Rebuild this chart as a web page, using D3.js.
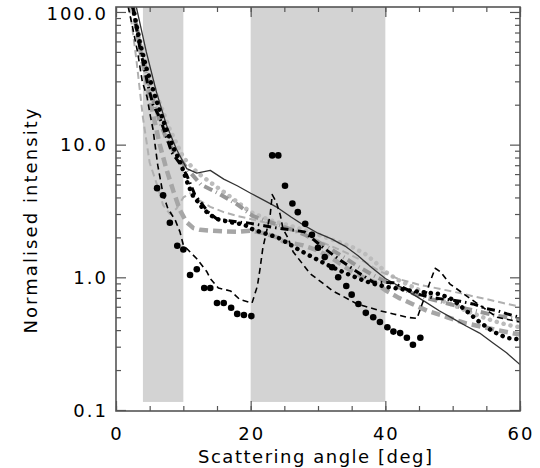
<!DOCTYPE html>
<html>
<head>
<meta charset="utf-8">
<script src="https://cdn.jsdelivr.net/npm/d3@7"></script>
<style>
  body { margin: 0; background: #fff; }
  svg { display: block; }
  text { font-family: "DejaVu Sans", sans-serif; fill: #000; }
</style>
</head>
<body>
<svg id="chart" width="540" height="468"></svg>
<script>
// scattering angle [deg] vs normalised intensity, several model / data curves

var xTicks = [0, 20, 40, 60];
var yTicks = [0.1, 1, 10, 100];
var yTickLabels = ["0.1", "1.0", "10.0", "100.0"];

// shaded angle ranges
var bands = [[4, 10], [20, 40]];
var bandBottom = 0.115;

var solidLine = [[3,110],[4.5,50],[6,25],[7.5,14],[9,9.2],[10.5,6.6],[12,6.1],[14,6.4],[16,5.5],[18,4.9],[20,4.3],[22,3.8],[24,3.35],[26,2.85],[28,2.45],[30,2.15],[32,1.95],[34,1.72],[36,1.45],[38,1.18],[40,0.98],[42,0.86],[44,0.75],[46,0.65],[48,0.56],[50,0.49],[52,0.43],[54,0.38],[56,0.32],[58,0.27],[60,0.22]];

var blackDash = [[1.8,110],[2.5,75],[3.2,50],[3.9,30],[4.6,23],[5.05,17],[5.5,13],[5.8,10],[6.2,7],[7,4.2],[7.7,3.3],[8.8,2.7],[9.5,2.2],[10,1.75],[12,1.38],[13.5,1.1],[14,0.98],[15.2,0.83],[17,0.79],[18.4,0.68],[20.2,0.64],[21,0.86],[21.4,1.17],[21.8,1.65],[22.4,2.27],[22.9,2.95],[23.2,4.2],[23.8,3.7],[24.4,2.95],[24.8,2.32],[25.6,1.95],[26.3,1.56],[28.8,1.07],[32.2,0.79],[35.8,0.63],[39.2,0.56],[41.2,0.53],[43.2,0.5],[44.7,0.49],[46.7,0.94],[47.4,1.17],[48.2,1.1],[49.6,0.89],[53,0.67],[56.6,0.5],[60,0.46]];

var blackDashDot = [[2.5,110],[3.5,55],[4.75,28],[5.5,20],[6.5,16],[7.6,11],[8.3,8.7],[9.5,7.2],[10.5,5.9],[11.7,4.2],[13.7,3.1],[15,2.75],[18,2.62],[20,2.55],[22,2.45],[24,2.35],[26,2.28],[28,2.2],[30.6,1.7],[33.1,1.37],[35.8,1.1],[38.2,0.92],[41.2,0.91],[43.7,0.79],[45.2,0.74],[47.1,0.7],[49.2,0.68],[51.1,0.66],[53,0.63],[55.1,0.58],[56.6,0.56],[58.1,0.53],[60,0.5]];

var blackDotted = [[2.5,110],[3.5,60],[4.5,38],[5.5,26],[6.5,18],[7.5,13],[8.5,9.5],[9.5,7.5],[10.7,5],[11.4,4.15],[12,3.8],[12.5,3.5],[13.2,3.2],[14,2.95],[15,2.75],[17,2.6],[19,2.5],[20.3,2.3],[22,2.15],[24,2.0],[25.6,1.8],[27,1.63],[28.5,1.48],[30,1.35],[32,1.2],[34,1.08],[36,0.98],[38,0.9],[40,0.85],[42,0.82],[44,0.79],[46,0.77],[48,0.75],[50,0.68],[52,0.56],[54,0.46],[56,0.39],[58,0.35],[60,0.34]];

var blackPoints = [[6.1,4.7],[7,4.15],[8,2.58],[9.1,1.73],[10,1.62],[11,1.04],[12,1.15],[13.1,0.83],[14,0.83],[15,0.64],[16,0.64],[17.1,0.59],[18,0.53],[19,0.52],[20.1,0.51],[23.2,8.3],[24.1,8.3],[25.1,4.9],[26.2,3.6],[27,3.1],[28.1,2.53],[29.1,2.09],[30,1.67],[31,1.42],[32.1,1.19],[33,1.0],[34.2,0.86],[35,0.74],[36,0.63],[37.1,0.54],[38.2,0.5],[39.2,0.46],[40.3,0.42],[41.2,0.39],[42.2,0.38],[43.2,0.35],[44.1,0.31],[45.2,0.35]];

var grayDashDot = [[2.5,110],[3.5,60],[4.5,35],[5.5,22],[6.5,15],[7.5,11],[8.5,9],[10,7.2],[11,6.2],[12.6,5.0],[15.2,4.3],[18,3.55],[20.3,2.9],[22,2.7],[24,2.5],[26,2.3],[28,2.1],[30,1.85],[32,1.62],[34,1.4],[36,1.2],[38,1.05],[40,0.93],[42,0.84],[44,0.76],[46,0.7],[48,0.66],[50,0.62],[52,0.58],[54,0.55],[56,0.52],[58,0.5],[60,0.48]];

var grayDash = [[2.5,110],[3.5,55],[4.5,30],[5.5,17],[6.5,10],[7.5,6.5],[8.5,4.5],[9.5,3.2],[10.5,2.6],[11.5,2.35],[12.5,2.28],[14,2.25],[16,2.22],[18,2.2],[20,2.25],[22,2.15],[23.9,2.0],[24.8,1.87],[27.8,1.74],[29.9,1.6],[31.8,1.42],[34.3,1.17],[36.7,1.0],[38.2,0.93],[40,0.8],[42,0.7],[44,0.63],[46.2,0.56],[49.2,0.5],[52,0.45],[56.6,0.4],[60,0.37]];

var grayDotted = [[2.5,110],[4,50],[6,24],[8,13],[10,8],[12,6.2],[14,5.2],[16,4.4],[18,3.7],[20,3.1],[22.7,2.71],[25,2.52],[28,2.27],[30,2.1],[33,1.85],[35,1.7],[37,1.5],[38.5,1.3],[40,1.1],[42,0.95],[44,0.85],[46,0.76],[48,0.68],[50,0.62],[52,0.56],[54,0.51],[56,0.47],[58,0.44],[60,0.42]];

var lightDash = [[2,110],[3,45],[4,16],[5,7.3],[6.2,4.8],[7,3.5],[8,3.0],[9,3.3],[10,4.0],[11,4.3],[12,3.9],[14,3.4],[16,3.1],[18,2.9],[20,2.75],[22,2.6],[25,2.4],[28,2.1],[31,1.8],[34,1.55],[37,1.3],[39.2,1.11],[42,0.97],[45,0.88],[48,0.82],[51.1,0.76],[53,0.72],[55.3,0.68],[57.5,0.64],[60,0.6]];

var svg = d3.select("#chart");
var plotLeft = 116, plotRight = 520, plotTop = 7, plotBottom = 411;

var x = d3.scaleLinear().domain([0, 60]).range([plotLeft, plotRight]);
var y = d3.scaleLog().domain([0.1, 109]).range([plotBottom - 1, plotTop]);

svg.append("defs").append("clipPath").attr("id", "clip")
  .append("rect").attr("x", plotLeft).attr("y", plotTop)
  .attr("width", plotRight - plotLeft).attr("height", plotBottom - plotTop);

// grey bands
svg.selectAll("rect.band").data(bands).enter().append("rect")
  .attr("class", "band")
  .attr("x", function(d) { return x(d[0]); })
  .attr("width", function(d) { return x(d[1]) - x(d[0]); })
  .attr("y", plotTop)
  .attr("height", y(bandBottom) - plotTop)
  .attr("fill", "#d3d3d3");

var line = d3.line()
  .x(function(d) { return x(d[0]); })
  .y(function(d) { return y(d[1]); });

var plot = svg.append("g").attr("clip-path", "url(#clip)");

function drawLine(data, color, width, dash, cap) {
  plot.append("path")
    .datum(data)
    .attr("d", line)
    .attr("fill", "none")
    .attr("stroke", color)
    .attr("stroke-width", width)
    .attr("stroke-dasharray", dash)
    .attr("stroke-linecap", cap || "butt")
    .attr("stroke-linejoin", "round");
}

drawLine(grayDotted, "#bcbcbc", 4.5, "0.1,7", "round");
drawLine(lightDash, "#b0b0b0", 2, "7,4");
drawLine(grayDash, "#a6a6a6", 4.5, "9,5");
drawLine(grayDashDot, "#979797", 4, "9,4,1,4");
drawLine(solidLine, "#333", 1.3, null);
drawLine(blackDotted, "#000", 4.5, "0.1,7", "round");
drawLine(blackDashDot, "#000", 3, "8,4,1.5,4");
drawLine(blackDash, "#000", 1.6, "6,4");

plot.selectAll("circle.pt").data(blackPoints).enter().append("circle")
  .attr("class", "pt")
  .attr("cx", function(d) { return x(d[0]); })
  .attr("cy", function(d) { return y(d[1]); })
  .attr("r", 3.3)
  .attr("fill", "#000");

// frame and ticks (all inside)
var axisColor = "#555";
var minorX = d3.range(0, 61, 5);
var minorY = [];
[0.1, 1, 10].forEach(function(dec) {
  for (var k = 2; k <= 9; k++) minorY.push(dec * k);
});

svg.append("g").attr("transform", "translate(0," + plotBottom + ")")
  .call(d3.axisBottom(x).tickValues(minorX).tickSize(-5).tickFormat(""));
svg.append("g").attr("transform", "translate(0," + plotBottom + ")")
  .call(d3.axisBottom(x).tickValues(xTicks).tickSize(-10).tickFormat(""));
svg.append("g").attr("transform", "translate(0," + plotTop + ")")
  .call(d3.axisTop(x).tickValues(minorX).tickSize(-5).tickFormat(""));
svg.append("g").attr("transform", "translate(0," + plotTop + ")")
  .call(d3.axisTop(x).tickValues(xTicks).tickSize(-10).tickFormat(""));

svg.append("g").attr("transform", "translate(" + plotLeft + ",0)")
  .call(d3.axisLeft(y).tickValues(minorY).tickSize(-5).tickFormat(""));
svg.append("g").attr("transform", "translate(" + plotLeft + ",0)")
  .call(d3.axisLeft(y).tickValues(yTicks).tickSize(-10).tickFormat(""));
svg.append("g").attr("transform", "translate(" + plotRight + ",0)")
  .call(d3.axisRight(y).tickValues(minorY).tickSize(-5).tickFormat(""));
svg.append("g").attr("transform", "translate(" + plotRight + ",0)")
  .call(d3.axisRight(y).tickValues(yTicks).tickSize(-10).tickFormat(""));

svg.selectAll(".domain").remove();
svg.selectAll(".tick line").attr("stroke", axisColor).attr("stroke-width", 1.2);

svg.append("rect")
  .attr("x", plotLeft).attr("y", plotTop)
  .attr("width", plotRight - plotLeft).attr("height", plotBottom - plotTop)
  .attr("fill", "none").attr("stroke", axisColor).attr("stroke-width", 1.6);

// labels
svg.selectAll("text.xt").data(xTicks).enter().append("text")
  .attr("class", "xt")
  .attr("x", function(d) { return x(d) + 1; })
  .attr("y", 440)
  .attr("text-anchor", "middle")
  .style("font-size", "18px")
  .style("letter-spacing", "2px")
  .text(function(d) { return d; });

svg.selectAll("text.yt").data(yTicks).enter().append("text")
  .attr("class", "yt")
  .attr("x", 108)
  .attr("y", function(d) { return Math.max(y(d) + 6.5, 19.5); })
  .attr("text-anchor", "end")
  .style("font-size", "18px")
  .style("letter-spacing", "2px")
  .text(function(d, i) { return yTickLabels[i]; });

svg.append("text")
  .attr("x", 315).attr("y", 463)
  .attr("text-anchor", "middle")
  .attr("textLength", 234)
  .attr("lengthAdjust", "spacing")
  .style("font-size", "18px")
  .text("Scattering angle [deg]");

svg.append("text")
  .attr("transform", "translate(37,221) rotate(-90)")
  .attr("text-anchor", "middle")
  .attr("textLength", 225)
  .attr("lengthAdjust", "spacing")
  .style("font-size", "18px")
  .text("Normalised intensity");
</script>
</body>
</html>
